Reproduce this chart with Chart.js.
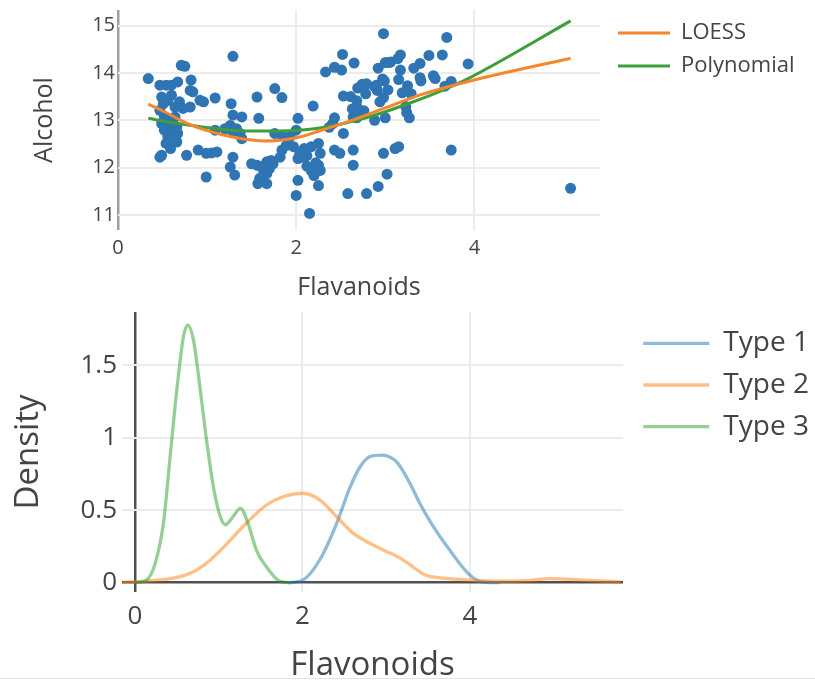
<!DOCTYPE html>
<html>
<head>
<meta charset="utf-8">
<script src="https://cdn.jsdelivr.net/npm/chart.js@4"></script>
<style>
  html, body { margin: 0; padding: 0; background: #fff; overflow: hidden; }
  #wrap { position: relative; width: 815px; height: 681px; }
  #top-chart { position: absolute; left: 0; top: 0; }
  #density-chart { position: absolute; left: 0; top: 290px; }
  #rule { position: absolute; left: 0; top: 678px; width: 815px; height: 1px; background: #e2e2e2; }
</style>
</head>
<body>
<div id="wrap">
  <canvas id="top-chart" width="815" height="305"></canvas>
  <canvas id="density-chart" width="815" height="400"></canvas>
  <div id="rule"></div>
</div>
<script>
// scatter: flavanoids vs alcohol
const flavanoids = [
  3.06, 2.76, 3.24, 3.49, 2.69, 3.39, 2.52, 2.51, 2.98, 3.15, 3.32, 2.43, 2.76, 3.69, 3.64, 2.91, 3.14, 3.40, 3.93, 3.03,
  3.17, 2.41, 2.88, 2.37, 2.61, 2.68, 2.94, 2.19, 2.97, 2.33, 3.25, 3.19, 2.69, 2.74, 2.53, 2.98, 2.68, 2.43, 2.64, 3.04,
  3.29, 2.68, 3.56, 2.63, 3.00, 2.65, 3.17, 3.39, 2.92, 3.54, 3.27, 2.99, 3.74, 2.79, 2.90, 2.78, 3.00, 3.23, 3.67,
  0.34, 0.47, 0.54, 0.60, 0.67, 0.71, 0.75, 0.82, 0.49, 0.51, 0.56, 0.60, 0.64, 0.69, 0.73, 0.81, 0.84, 0.92, 0.96, 0.81,
  0.47, 0.52, 0.49, 0.54, 0.59, 0.64, 0.66, 0.52, 0.61, 0.67, 0.56, 0.59, 0.62, 0.66, 0.54, 0.59, 0.47, 0.49, 0.77, 0.90,
  0.99, 1.05, 1.11, 0.99, 1.09, 1.29, 1.27, 1.29, 1.39, 1.09, 1.20, 1.26, 1.33, 1.37, 1.29, 1.39, 1.29, 1.31, 1.26, 1.56,
  1.58, 1.76, 1.84, 1.76, 1.84, 1.84, 1.89, 1.50, 1.56, 1.61, 1.67, 1.72, 1.70, 1.63, 1.57, 1.67, 1.59, 1.67, 2.02, 2.00,
  1.93, 2.00, 2.02, 2.15, 2.25, 2.25, 2.27, 1.97, 2.04, 2.09, 2.17, 2.12, 2.12, 2.17, 2.22, 2.20, 2.27, 2.53, 2.43, 2.49,
  2.64, 2.64, 2.98, 3.11, 3.15, 3.74, 3.02, 2.92, 2.79, 2.58, 5.08, 1.82, 1.74, 2.06, 2.02, 2.08, 1.63, 2.25, 2.88
];
const alcohol = [
  14.23, 13.20, 13.16, 14.37, 13.24, 14.20, 14.39, 14.06, 14.83, 13.86, 14.10, 14.12, 13.75, 14.75, 14.38, 13.63, 14.30, 13.83, 14.19, 13.64,
  14.06, 12.93, 13.71, 12.85, 13.50, 13.05, 13.39, 13.30, 13.87, 14.02, 13.73, 13.58, 13.68, 13.76, 13.51, 13.48, 13.28, 13.05, 13.07, 14.22,
  13.56, 13.41, 13.88, 13.24, 13.05, 14.21, 14.38, 13.90, 14.10, 13.94, 13.05, 13.83, 13.82, 13.77, 13.74, 13.56, 14.22, 13.29, 13.72,
  13.88, 13.74, 13.74, 13.74, 13.81, 14.16, 14.14, 13.85, 13.49, 13.35, 13.42, 13.53, 13.28, 13.39, 13.25, 13.63, 13.60, 13.42, 13.39, 13.28,
  13.21, 13.07, 12.93, 13.00, 12.93, 13.07, 12.86, 12.79, 12.79, 12.72, 12.65, 12.58, 12.61, 12.54, 12.51, 12.40, 12.22, 12.26, 12.26, 12.37,
  12.30, 12.31, 12.33, 11.80, 13.47, 14.35, 13.35, 13.11, 13.07, 12.79, 12.82, 12.89, 12.82, 12.72, 12.75, 12.61, 12.22, 11.84, 12.01, 13.49,
  13.04, 13.67, 13.48, 12.72, 12.68, 12.37, 12.47, 12.08, 12.05, 12.01, 12.12, 12.15, 11.98, 11.84, 11.66, 11.66, 11.77, 11.87, 13.04, 12.79,
  12.65, 11.41, 11.73, 11.03, 11.62, 12.51, 12.30, 12.44, 12.30, 12.40, 12.44, 12.25, 12.03, 11.93, 12.10, 11.83, 11.94, 12.72, 12.37, 12.30,
  12.37, 12.05, 12.30, 12.40, 12.44, 12.37, 11.86, 11.60, 11.45, 11.45, 11.56, 12.22, 12.08, 12.33, 12.19, 12.22, 11.80, 12.05, 13.00
];

// fitted curves
const loessX = [0.34, 0.50, 0.77, 1.00, 1.30, 1.65, 2.00, 2.30, 2.60, 3.00, 3.40, 3.93, 5.08];
const loessY = [13.34, 13.20, 12.94, 12.78, 12.64, 12.56, 12.63, 12.80, 12.98, 13.26, 13.54, 13.82, 14.31];
const polyX = [0.34, 0.60, 0.90, 1.20, 1.50, 1.80, 2.10, 2.40, 2.70, 3.00, 3.30, 3.60, 3.93, 5.08];
const polyY = [13.04, 12.95, 12.87, 12.80, 12.77, 12.77, 12.80, 12.88, 13.01, 13.18, 13.38, 13.60, 13.88, 15.10];

// density curves per wine type
const type1X = [1.83, 2.01, 2.21, 2.41, 2.57, 2.69, 2.81, 2.95, 3.13, 3.29, 3.40, 3.54, 3.76, 3.98, 4.12, 4.36];
const type1Y = [0.0, 0.02, 0.16, 0.41, 0.66, 0.80, 0.87, 0.88, 0.83, 0.68, 0.55, 0.41, 0.225, 0.064, 0.01, 0.0];
const type2X = [-0.15, 0.18, 0.50, 0.70, 0.90, 1.10, 1.33, 1.57, 1.77, 2.01, 2.21, 2.41, 2.61, 2.97, 3.17, 3.32, 3.46, 3.56, 3.96, 4.36, 4.70, 4.96, 5.30, 5.80];
const type2Y = [0.002, 0.013, 0.037, 0.076, 0.157, 0.27, 0.41, 0.536, 0.593, 0.617, 0.57, 0.455, 0.34, 0.225, 0.17, 0.11, 0.055, 0.04, 0.02, 0.01, 0.015, 0.028, 0.02, 0.005];
const type3X = [0.0, 0.14, 0.24, 0.34, 0.42, 0.50, 0.58, 0.63, 0.70, 0.78, 0.86, 0.96, 1.08, 1.17, 1.26, 1.35, 1.45, 1.57, 1.73, 1.87];
const type3Y = [0.0, 0.02, 0.13, 0.41, 0.87, 1.33, 1.70, 1.777, 1.67, 1.33, 0.96, 0.59, 0.40, 0.455, 0.513, 0.41, 0.225, 0.11, 0.01, 0.0];

// ticks
const topXTicks = [0, 2, 4];
const topYTicks = [11, 12, 13, 14, 15];
const densXTicks = [0, 2, 4];
const densYTicks = [0, 0.5, 1, 1.5];

const toPoints = (xs, ys) => xs.map((x, i) => ({x: x, y: ys[i]}));
const setTicks = values => scale => { scale.ticks = values.map(v => ({value: v})); };

Chart.defaults.font.family = "'Open Sans', sans-serif";
Chart.defaults.color = '#444';

// keeps the legend at a fixed width and nudges it next to the plot
const legendPlacer = {
    id: 'legendPlacer',
    beforeInit(chart, args, opts) {
        const fit = chart.legend.fit;
        chart.legend.fit = function () {
            fit.call(this);
            this.width = opts.width;
        };
    },
    afterLayout(chart, args, opts) {
        chart.legend.left += opts.dx;
        chart.legend.top += opts.dy;
    }
};

// Top: scatter with LOESS + polynomial fits
new Chart(document.getElementById('top-chart'), {
    type: 'scatter',
    data: {
        datasets: [
            {
                label: 'Wines',
                data: toPoints(flavanoids, alcohol),
                backgroundColor: '#2f74b3',
                borderWidth: 0,
                pointRadius: 5.5,
                order: 3
            },
            {
                type: 'line',
                label: 'LOESS',
                data: toPoints(loessX, loessY),
                borderColor: '#f5862b',
                borderWidth: 3,
                pointRadius: 0,
                cubicInterpolationMode: 'monotone',
                fill: false,
                order: 1
            },
            {
                type: 'line',
                label: 'Polynomial',
                data: toPoints(polyX, polyY),
                borderColor: '#3d9e3a',
                borderWidth: 3,
                pointRadius: 0,
                cubicInterpolationMode: 'monotone',
                fill: false,
                order: 2
            }
        ]
    },
    options: {
        responsive: false,
        animation: false,
        devicePixelRatio: 1,
        events: [],
        layout: { padding: { top: 10, left: 0, right: 0, bottom: 0 } },
        plugins: {
            tooltip: { enabled: false },
            legend: {
                position: 'right',
                align: 'start',
                labels: {
                    usePointStyle: true,
                    pointStyle: 'line',
                    pointStyleWidth: 52,
                    padding: 11,
                    color: '#444',
                    font: { size: 22 },
                    filter: item => item.datasetIndex > 0,
                    sort: (a, b) => a.datasetIndex - b.datasetIndex
                }
            },
            legendPlacer: { width: 215, dx: 7, dy: 1 }
        },
        scales: {
            x: {
                type: 'linear',
                min: 0,
                max: 5.41,
                afterBuildTicks: setTicks(topXTicks),
                afterFit: s => { s.height = 75; s.paddingLeft = 0; s.paddingRight = 0; },
                border: { display: false },
                grid: {
                    drawTicks: false,
                    color: c => c.tick && c.tick.value === 0 ? '#a0a0a0' : '#ececec',
                    lineWidth: c => c.tick && c.tick.value === 0 ? 2.5 : 2
                },
                ticks: { padding: 6, font: { size: 20 }, color: '#444' },
                title: { display: true, text: 'Flavanoids', font: { size: 25 }, color: '#444', padding: { top: 0, bottom: 2 } }
            },
            y: {
                type: 'linear',
                min: 10.68,
                max: 15.33,
                afterBuildTicks: setTicks(topYTicks),
                afterFit: s => { s.width = 118; s.paddingTop = 0; s.paddingBottom = 0; },
                border: { display: false },
                grid: { drawTicks: false, color: '#ececec', lineWidth: 2 },
                ticks: { padding: 3, font: { size: 20 }, color: '#444' },
                title: { display: true, text: 'Alcohol', font: { size: 25 }, color: '#444', padding: { top: 30, bottom: 0 } }
            }
        }
    },
    plugins: [legendPlacer]
});

// Bottom: flavonoid density by type
const densityColors = ['rgba(31,119,180,0.5)', 'rgba(255,127,14,0.5)', 'rgba(44,160,44,0.5)'];
const densitySets = [[type1X, type1Y], [type2X, type2Y], [type3X, type3Y]];

new Chart(document.getElementById('density-chart'), {
    type: 'line',
    data: {
        datasets: densitySets.map((d, i) => ({
            label: 'Type ' + (i + 1),
            data: toPoints(d[0], d[1]),
            borderColor: densityColors[i],
            borderWidth: 3.3,
            pointRadius: 0,
            cubicInterpolationMode: 'monotone',
            fill: false,
            order: 3 - i
        }))
    },
    options: {
        responsive: false,
        animation: false,
        devicePixelRatio: 1,
        events: [],
        layout: { padding: { top: 22, left: 0, right: 0, bottom: 0 } },
        plugins: {
            tooltip: { enabled: false },
            legend: {
                position: 'right',
                align: 'start',
                labels: {
                    usePointStyle: true,
                    pointStyle: 'line',
                    pointStyleWidth: 66,
                    padding: 13.7,
                    color: '#444',
                    font: { size: 28 },
                    sort: (a, b) => a.datasetIndex - b.datasetIndex
                }
            },
            legendPlacer: { width: 192, dx: 6.6, dy: 3.6 }
        },
        scales: {
            x: {
                type: 'linear',
                min: -0.155,
                max: 5.83,
                afterBuildTicks: setTicks(densXTicks),
                afterFit: s => { s.height = 98; s.paddingLeft = 0; s.paddingRight = 0; },
                border: { display: false },
                grid: {
                    drawTicks: false,
                    color: c => c.tick && c.tick.value === 0 ? '#505050' : '#ececec',
                    lineWidth: c => c.tick && c.tick.value === 0 ? 2.5 : 2
                },
                ticks: { padding: 9, font: { size: 26 }, color: '#444' },
                title: { display: true, text: 'Flavonoids', font: { size: 33 }, color: '#444', padding: { top: 0, bottom: 5 } }
            },
            y: {
                type: 'linear',
                min: -0.064,
                max: 1.867,
                afterBuildTicks: setTicks(densYTicks),
                afterFit: s => { s.width = 122; s.paddingTop = 0; s.paddingBottom = 0; },
                border: { display: false },
                grid: {
                    drawTicks: false,
                    color: c => c.tick && c.tick.value === 0 ? '#505050' : '#ececec',
                    lineWidth: c => c.tick && c.tick.value === 0 ? 2.5 : 2
                },
                ticks: { padding: 5, font: { size: 26 }, color: '#444', callback: v => String(v) },
                title: { display: true, text: 'Density', font: { size: 33 }, color: '#444', padding: { top: 8.5, bottom: 0 } }
            }
        }
    },
    plugins: [legendPlacer]
});
</script>
</body>
</html>
